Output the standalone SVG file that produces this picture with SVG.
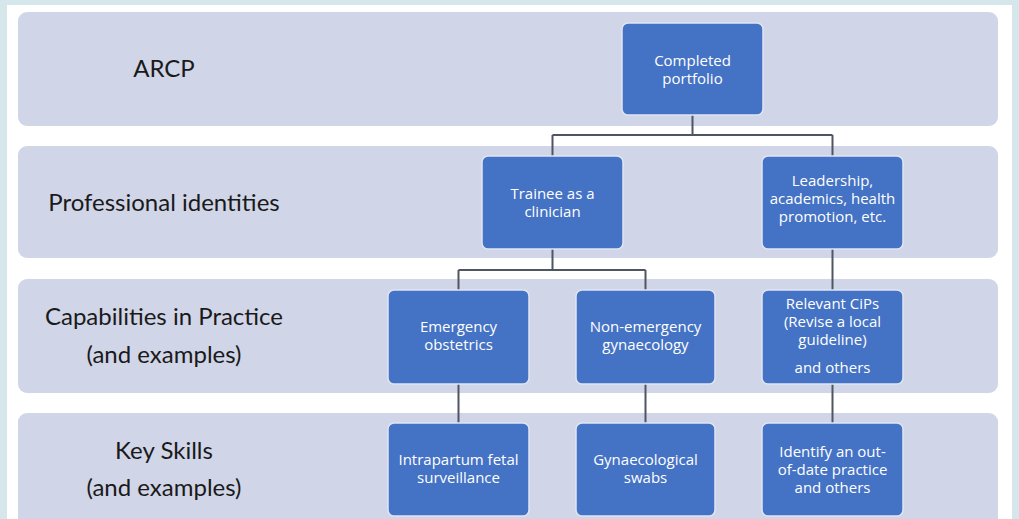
<svg xmlns="http://www.w3.org/2000/svg" width="1019" height="519" viewBox="0 0 1019 519">
<style>
.band{fill:#d0d5e8;}
.node{fill:#4472c4;stroke:#dfe5f3;stroke-width:1.5;}
.lbl{font-family:Lato,"Open Sans","Liberation Sans",sans-serif;font-size:24px;fill:#1a1a1a;text-anchor:middle;}
.nt{font-family:"Open Sans","Noto Sans","Liberation Sans",sans-serif;font-size:15px;fill:#ffffff;text-anchor:middle;}
.conn{fill:none;stroke:#4f5663;stroke-width:2;}
</style>
<rect x="0" y="0" width="1019" height="519" fill="#d6e7eb"/>
<rect x="7" y="5" width="1005" height="514" fill="#ffffff"/>
<g id="bands">
<rect class="band" x="18" y="12" width="980" height="114" rx="9"/>
<rect class="band" x="18" y="146" width="980" height="112" rx="9"/>
<rect class="band" x="18" y="279" width="980" height="114" rx="9"/>
<rect class="band" x="18" y="413" width="980" height="115" rx="9"/>
</g>
<g id="row-labels">
<text class="lbl" x="164" y="77">ARCP</text>
<text class="lbl" x="164" y="211">Professional identities</text>
<text class="lbl" x="164" y="325">Capabilities in Practice</text>
<text class="lbl" x="164" y="363">(and examples)</text>
<text class="lbl" x="164" y="459">Key Skills</text>
<text class="lbl" x="164" y="496">(and examples)</text>
</g>
<g id="connectors">
<path class="conn" d="M692.5 115 V135 M552.5 135 H832.5 M552.5 135 V156 M832.5 135 V156"/>
<path class="conn" d="M552.5 249 V270 M458.5 270 H645.5 M458.5 270 V290 M645.5 270 V290"/>
<path class="conn" d="M832.5 249 V290"/>
<path class="conn" d="M458.5 384 V423 M645.5 384 V423 M832.5 384 V423"/>
</g>
<g id="n-portfolio">
<rect class="node" x="622" y="23" width="141" height="92" rx="6"/>
<text class="nt" x="692.5" y="66">Completed</text>
<text class="nt" x="692.5" y="84">portfolio</text>
</g>
<g id="n-trainee">
<rect class="node" x="482" y="156" width="141" height="93" rx="6"/>
<text class="nt" x="552.5" y="199">Trainee as a</text>
<text class="nt" x="552.5" y="217">clinician</text>
</g>
<g id="n-leadership">
<rect class="node" x="762" y="156" width="141" height="93" rx="6"/>
<text class="nt" x="832.5" y="186">Leadership,</text>
<text class="nt" x="832.5" y="204">academics, health</text>
<text class="nt" x="832.5" y="222">promotion, etc.</text>
</g>
<g id="n-emergency">
<rect class="node" x="388" y="290" width="141" height="94" rx="6"/>
<text class="nt" x="458.5" y="332">Emergency</text>
<text class="nt" x="458.5" y="350">obstetrics</text>
</g>
<g id="n-nonemergency">
<rect class="node" x="576" y="290" width="139" height="94" rx="6"/>
<text class="nt" x="645.5" y="332">Non-emergency</text>
<text class="nt" x="645.5" y="350">gynaecology</text>
</g>
<g id="n-cips">
<rect class="node" x="762" y="290" width="141" height="94" rx="6"/>
<text class="nt" x="832.5" y="309">Relevant CiPs</text>
<text class="nt" x="832.5" y="327">(Revise a local</text>
<text class="nt" x="832.5" y="345">guideline)</text>
<text class="nt" x="832.5" y="373">and others</text>
</g>
<g id="n-intrapartum">
<rect class="node" x="388" y="423" width="141" height="93" rx="6"/>
<text class="nt" x="458.5" y="465">Intrapartum fetal</text>
<text class="nt" x="458.5" y="483">surveillance</text>
</g>
<g id="n-swabs">
<rect class="node" x="576" y="423" width="139" height="93" rx="6"/>
<text class="nt" x="645.5" y="465">Gynaecological</text>
<text class="nt" x="645.5" y="483">swabs</text>
</g>
<g id="n-identify">
<rect class="node" x="762" y="423" width="141" height="93" rx="6"/>
<text class="nt" x="832.5" y="457">Identify an out-</text>
<text class="nt" x="832.5" y="475">of-date practice</text>
<text class="nt" x="832.5" y="493">and others</text>
</g>
</svg>
